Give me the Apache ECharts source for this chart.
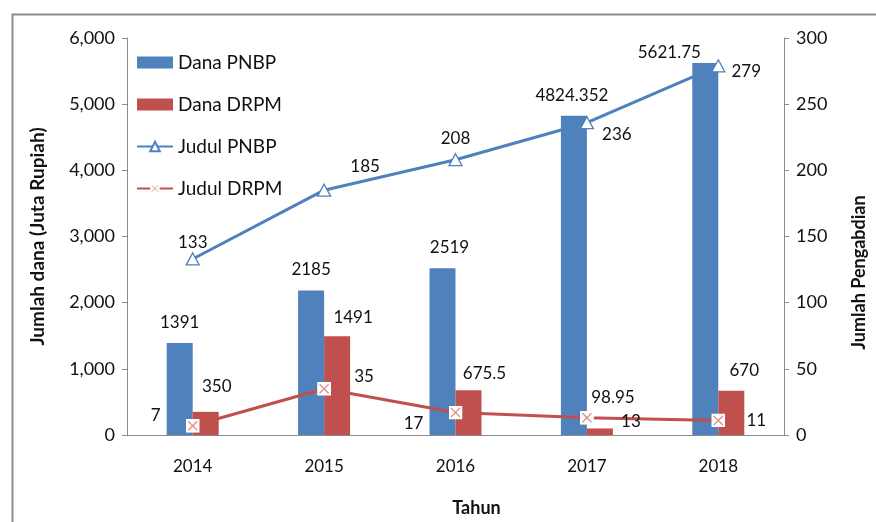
<!DOCTYPE html>
<html>
<head>
<meta charset="utf-8">
<script src="https://cdn.jsdelivr.net/npm/echarts@6/dist/echarts.min.js"></script>
<style>
  html, body { margin: 0; padding: 0; background: #ffffff; }
  #chart { width: 876px; height: 522px; }
</style>
</head>
<body>
<div id="chart"></div>
<script>
// Funding (juta rupiah) and number of community-service titles per year
const years = ['2014', '2015', '2016', '2017', '2018'];
const danaPNBP = [1391, 2185, 2519, 4824.352, 5621.75];
const danaDRPM = [350, 1491, 675.5, 98.95, 670];
const judulPNBP = [133, 185, 208, 236, 279];
const judulDRPM = [7, 35, 17, 13, 11];

// Label nudges (pixels) per point, so labels sit clear of the marks
const offPNBPbar = [[0, 0], [0, 0], [7, 0], [-2, 0], [-36, 10]];
const offDRPMbar = [[11, -5], [16, 2], [16, 4], [13, -10], [13, 0]];
const offPNBPline = [[0, 4], [41, -4], [0, -1], [30, 32], [28, 26]];
const offDRPMline = [[-37, 10], [40, 8], [-42, 32], [44, 24], [38, 21]];

const FONT = 'Lato';
const BLUE = '#4F81BD';
const RED = '#C0504D';
const TXT = '#111111';
const AXIS = '#8c8c8c';

// White box with a thin cross, used as the DRPM line marker
const crossSvg = "<svg xmlns='http://www.w3.org/2000/svg' width='28' height='28' viewBox='0 0 14 14'>" +
  "<rect width='14' height='14' fill='#ffffff'/>" +
  "<path d='M2.5 2.5L11.5 11.5M11.5 2.5L2.5 11.5' stroke='#E08C8A' stroke-width='1.3' fill='none'/></svg>";
const crossSymbol = 'image://data:image/svg+xml;charset=utf-8,' + encodeURIComponent(crossSvg);

function withLabels(values, offsets) {
  return values.map((v, i) => ({ value: v, label: { offset: offsets[i] } }));
}

const labelStyle = { fontFamily: FONT, fontSize: 17, color: TXT };

const chart = echarts.init(document.getElementById('chart'), null, { renderer: 'canvas' });
chart.setOption({
  backgroundColor: '#ffffff',
  animation: false,
  graphic: [{
    type: 'rect',
    left: 10, top: 12,
    shape: { width: 900, height: 600 },
    style: { fill: 'none', stroke: AXIS, lineWidth: 2 },
    silent: true
  }],
  grid: { left: 127, right: 86, top: 38, bottom: 86 },
  legend: {
    orient: 'vertical',
    left: 131, top: 48,
    itemWidth: 36, itemHeight: 12,
    itemGap: 23,
    textStyle: { fontFamily: FONT, fontSize: 19, color: TXT },
    data: [
      { name: 'Dana PNBP', icon: 'rect' },
      { name: 'Dana DRPM', icon: 'rect' },
      { name: 'Judul PNBP' },
      { name: 'Judul DRPM' }
    ]
  },
  xAxis: {
    type: 'category',
    data: years,
    boundaryGap: true,
    name: 'Tahun',
    nameLocation: 'middle',
    nameGap: 64,
    nameTextStyle: { fontFamily: FONT, fontSize: 18, fontWeight: 'bold', color: TXT, padding: [0, 0, 0, 42] },
    axisLine: { lineStyle: { color: AXIS, width: 1 } },
    axisTick: { show: false },
    axisLabel: { fontFamily: FONT, fontSize: 17, color: TXT, margin: 23 },
    splitLine: { show: false }
  },
  yAxis: [{
    type: 'value',
    min: 0, max: 6000, interval: 1000,
    name: 'Jumlah dana (Juta Rupiah)',
    nameLocation: 'middle',
    nameGap: 80,
    nameRotate: 90,
    nameTextStyle: { fontFamily: FONT, fontSize: 19, fontWeight: 'bold', color: TXT },
    axisLine: { show: true, lineStyle: { color: AXIS, width: 1 } },
    axisTick: { show: true, length: 5, lineStyle: { color: AXIS } },
    axisLabel: {
      fontFamily: FONT, fontSize: 18, color: TXT, margin: 12,
      formatter: v => v.toLocaleString('en-US')
    },
    splitLine: { show: false }
  }, {
    type: 'value',
    min: 0, max: 300, interval: 50,
    name: 'Jumlah Pengabdian',
    nameLocation: 'middle',
    nameGap: 66,
    nameRotate: 90,
    nameTextStyle: { fontFamily: FONT, fontSize: 18, fontWeight: 'bold', color: TXT, padding: [0, 0, 0, -72] },
    axisLine: { show: true, lineStyle: { color: AXIS, width: 1 } },
    axisTick: { show: true, length: 5, lineStyle: { color: AXIS } },
    axisLabel: { fontFamily: FONT, fontSize: 18, color: TXT, margin: 12 },
    splitLine: { show: false }
  }],
  series: [{
    name: 'Dana PNBP',
    type: 'bar',
    yAxisIndex: 0,
    barWidth: 26,
    barGap: '0%',
    itemStyle: { color: BLUE },
    label: Object.assign({ show: true, position: 'top', distance: 12 }, labelStyle),
    data: withLabels(danaPNBP, offPNBPbar)
  }, {
    name: 'Dana DRPM',
    type: 'bar',
    yAxisIndex: 0,
    barWidth: 26,
    barGap: '0%',
    itemStyle: { color: RED },
    label: Object.assign({ show: true, position: 'top', distance: 12 }, labelStyle),
    data: withLabels(danaDRPM, offDRPMbar)
  }, {
    name: 'Judul PNBP',
    type: 'line',
    yAxisIndex: 1,
    z: 5,
    symbol: 'triangle',
    symbolSize: [13, 12],
    showAllSymbol: true,
    lineStyle: { color: BLUE, width: 3 },
    itemStyle: { color: '#ffffff', borderColor: BLUE, borderWidth: 1.3 },
    label: Object.assign({ show: true, position: 'top', distance: 5 }, labelStyle),
    data: withLabels(judulPNBP, offPNBPline)
  }, {
    name: 'Judul DRPM',
    type: 'line',
    yAxisIndex: 1,
    z: 5,
    symbol: crossSymbol,
    symbolSize: 14,
    showAllSymbol: true,
    lineStyle: { color: RED, width: 3 },
    itemStyle: { color: RED },
    label: Object.assign({ show: true, position: 'top', distance: 5 }, labelStyle),
    data: withLabels(judulDRPM, offDRPMline)
  }]
});
</script>
</body>
</html>
